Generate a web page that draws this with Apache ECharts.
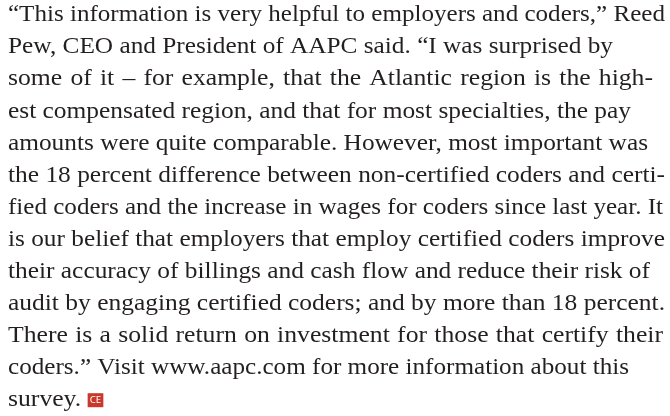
<!DOCTYPE html>
<html>
<head>
<meta charset="utf-8">
<script src="https://cdn.jsdelivr.net/npm/echarts@6/dist/echarts.min.js"></script>
<style>
  html, body { margin: 0; padding: 0; background: #ffffff; }
  #main { width: 670px; height: 416px; }
</style>
</head>
<body>
<div id="main"></div>
<script>
// text of the paragraph, one entry per printed line
var lines = [
    '\u201cThis information is very helpful to employers and coders,\u201d Reed',
    'Pew, CEO and President of AAPC said. \u201cI was surprised by',
    'some of it \u2013 for example, that the Atlantic region is the high-',
    'est compensated region, and that for most specialties, the pay',
    'amounts were quite comparable. However, most important was',
    'the 18 percent difference between non-certified coders and certi-',
    'fied coders and the increase in wages for coders since last year. It',
    'is our belief that employers that employ certified coders improve',
    'their accuracy of billings and cash flow and reduce their risk of',
    'audit by engaging certified coders; and by more than 18 percent.',
    'There is a solid return on investment for those that certify their',
    'coders.\u201d Visit www.aapc.com for more information about this',
    'survey.'
];
var endMark = 'CE';

// where each printed line ends on the right (the last line is left ragged)
var lineEnds = [665, 613, 653, 631, 648, 665, 663, 665, 650, 665, 663, 629, null];

var textColor = '#231f20';
var markColor = '#c8392b';
var fontCss = '24px "Liberation Serif", serif';
var leftX = 8;
var topY = 3;
var lineHeight = 32.1;
var maxStretch = 1.07;

var dom = document.getElementById('main');
var myChart = echarts.init(dom, null, { renderer: 'canvas' });

var ctx = document.createElement('canvas').getContext('2d');
ctx.font = fontCss;
var spaceW = ctx.measureText(' ').width;

var graphics = [];
lines.forEach(function (s, i) {
    var y = topY + i * lineHeight;
    var end = lineEnds[i];
    if (end == null) {
        graphics.push({
            type: 'text',
            x: leftX,
            y: y,
            scaleX: maxStretch,
            style: {
                text: s + ' {ce|' + endMark + '}',
                fill: textColor,
                font: fontCss,
                verticalAlign: 'top',
                rich: {
                    ce: {
                        fontFamily: 'Noto Sans',
                        fontSize: 9,
                        fill: '#ffffff',
                        backgroundColor: markColor,
                        padding: [3, 2, 2, 2]
                    }
                }
            }
        });
        return;
    }
    var words = s.split(' ');
    var widths = words.map(function (w) { return ctx.measureText(w).width; });
    var total = widths.reduce(function (a, b) { return a + b; }, 0) + spaceW * (words.length - 1);
    var avail = end - leftX;
    var k = Math.min(maxStretch, avail / total);
    var extra = words.length > 1 ? Math.max(0, (avail - total * k) / (words.length - 1)) : 0;
    var x = leftX;
    words.forEach(function (w, j) {
        graphics.push({
            type: 'text',
            x: x,
            y: y,
            scaleX: k,
            style: {
                text: w,
                fill: textColor,
                font: fontCss,
                verticalAlign: 'top'
            }
        });
        x += (widths[j] + spaceW) * k + extra;
    });
});

var option = {
    backgroundColor: '#ffffff',
    graphic: graphics
};

myChart.setOption(option);
window.addEventListener('resize', myChart.resize);
</script>
</body>
</html>
